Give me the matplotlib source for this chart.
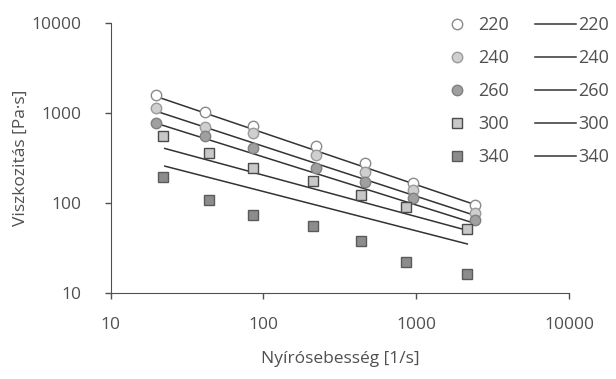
import matplotlib
matplotlib.use('Agg')
from matplotlib import pyplot as plt

plt.rcParams['font.family'] = ['Open Sans', 'DejaVu Sans']

temps = ['220', '240', '260', '300', '340']

# measured points (shear rate, viscosity)
x_circ = [19.7, 41.5, 86, 222, 463, 950, 2420]
x_sq = [22, 44, 86, 211, 436, 862, 2160]
y_220 = [1570, 1010, 717, 427, 274, 167, 94]
y_240 = [1119, 699, 594, 339, 221, 138, 77]
y_260 = [774, 551, 402, 241, 171, 112, 64]
y_300 = [551, 359, 243, 174, 122, 89, 51]
y_340 = [196, 109, 74, 55, 38, 22, 16.4]

# fitted model lines (start / end)
fit_x = {'220': [19.5, 2500], '240': [19.5, 2400], '260': [20, 2290],
         '300': [22.6, 2160], '340': [22.6, 2160]}
fit_y = {'220': [1533, 94], '240': [1052, 73], '260': [763, 61],
         '300': [402, 49.5], '340': [256, 35]}

points = {'220': (x_circ, y_220), '240': (x_circ, y_240), '260': (x_circ, y_260),
          '300': (x_sq, y_300), '340': (x_sq, y_340)}
styles = {'220': dict(marker='o', mfc='white', mec='#8a8a8a', ms=7.5),
          '240': dict(marker='o', mfc='#cfcfcf', mec='#9a9a9a', ms=7.5),
          '260': dict(marker='o', mfc='#a0a0a0', mec='#808080', ms=7.5),
          '300': dict(marker='s', mfc='#c8c8c8', mec='#4a4a4a', ms=7),
          '340': dict(marker='s', mfc='#8c8c8c', mec='#5a5a5a', ms=7)}

grey = '#505050'

fig = plt.figure(figsize=(6.16, 3.79), dpi=100)
ax = fig.add_axes([0.1797, 0.2269, 0.7440, 0.7132])

mark_handles = []
line_handles = []
for t in temps:
    xs, ys = points[t]
    h, = ax.plot(xs, ys, ls='none', mew=1.0, zorder=3, **styles[t])
    mark_handles.append(h)
for t in temps:
    h, = ax.plot(fit_x[t], fit_y[t], color='#333333', lw=1.1, zorder=2)
    line_handles.append(h)

ax.set_xscale('log')
ax.set_yscale('log')
ax.set_xlim(10, 10000)
ax.set_ylim(10, 10000)
ax.set_xticks([10, 100, 1000, 10000])
ax.set_yticks([10, 100, 1000, 10000])
ax.set_xticklabels(['10', '100', '1000', '10000'])
ax.set_yticklabels(['10', '100', '1000', '10000'])
ax.minorticks_off()
ax.tick_params(direction='out', length=4, width=1, color=grey, labelcolor=grey,
               labelsize=12.5)
ax.tick_params(axis='x', pad=13)
ax.tick_params(axis='y', pad=17)
for s in ['top', 'right']:
    ax.spines[s].set_visible(False)
for s in ['left', 'bottom']:
    ax.spines[s].set_color(grey)

ax.set_xlabel('Nyírósebesség [1/s]', color=grey, fontsize=12.5, labelpad=13)
ax.set_ylabel('Viszkozitás [Pa·s]', color=grey, fontsize=12.5, labelpad=2)

leg1 = fig.legend(mark_handles, temps, loc='upper left', bbox_to_anchor=(0.715, 0.977),
                  frameon=False, fontsize=13, labelcolor=grey, handlelength=1.0,
                  handletextpad=0.7, labelspacing=0.83, borderaxespad=0.0)
leg2 = fig.legend(line_handles, temps, loc='upper left', bbox_to_anchor=(0.856, 0.977),
                  frameon=False, fontsize=13, labelcolor=grey, handlelength=2.3,
                  handletextpad=0.1, labelspacing=0.83, borderaxespad=0.0)

fig.savefig('out.png', dpi=100)
